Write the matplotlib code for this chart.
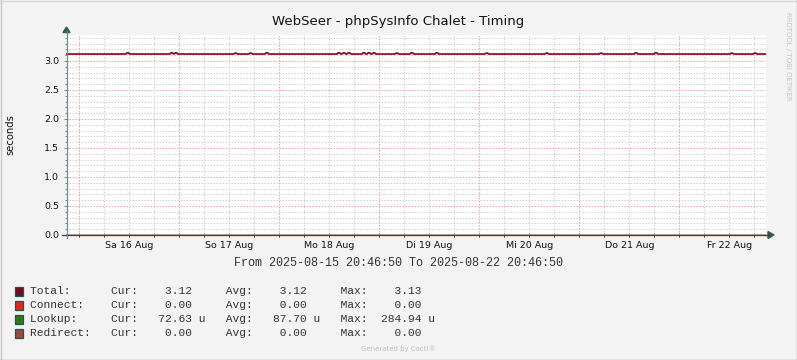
import matplotlib
matplotlib.use("Agg")
import matplotlib.pyplot as plt
import matplotlib.dates as mdates
from matplotlib.lines import Line2D
from matplotlib.patches import Polygon, Rectangle
from matplotlib.ticker import MultipleLocator, FormatStrFormatter
import pandas as pd

W, H = 797, 360

start = pd.Timestamp("2025-08-15 20:46:50")
end = pd.Timestamp("2025-08-22 20:46:50")

# Total timing in seconds: flat, with small spikes (hours after start)
total_base = 3.12
spike_hours = [14.8, 25.4, 26.4, 40.7, 44.3, 48.2, 65.5, 66.7, 67.9, 71.5, 72.7,
               73.9, 79.4, 83.0, 89.0, 101.0, 115.4, 128.4, 136.8, 141.6, 159.8, 165.4]
spike_vals = [3.14, 3.14, 3.14, 3.135, 3.135, 3.14, 3.14, 3.14, 3.14, 3.14, 3.14,
              3.14, 3.135, 3.14, 3.14, 3.135, 3.135, 3.135, 3.14, 3.14, 3.135, 3.135]

day_labels = ["Sa 16 Aug", "So 17 Aug", "Mo 18 Aug", "Di 19 Aug",
              "Mi 20 Aug", "Do 21 Aug", "Fr 22 Aug"]

series_names = ["Total:", "Connect:", "Lookup:", "Redirect:"]
series_colors = ["#7A0A1E", "#E5261B", "#2F7A14", "#984A3B"]
cur_vals = [3.12, 0.00, 72.63, 0.00]
avg_vals = [3.12, 0.00, 87.70, 0.00]
max_vals = [3.13, 0.00, 284.94, 0.00]
units = ["", "", "u", ""]
# level of each series in seconds (others are tiny / zero)
level_vals = [None, 0.0, 87.70e-6, 0.0]


def px(x, y):
    return x / W, 1 - y / H


def hrs(h):
    return (start + pd.Timedelta(hours=h)).to_pydatetime()


fig = plt.figure(figsize=(W / 100, H / 100), dpi=100, facecolor="#F3F3F3")
ax = fig.add_axes([66 / W, 1 - 235 / H, 700 / W, 200 / H], facecolor="white")

# build the total line
xs = [hrs(0)]
ys = [total_base]
for h, v in zip(spike_hours, spike_vals):
    xs += [hrs(h - 0.45), hrs(h - 0.2), hrs(h + 0.2), hrs(h + 0.45)]
    ys += [total_base, v, v, total_base]
xs.append(hrs(168))
ys.append(total_base)

for i in range(1, 4):
    ax.plot([hrs(0), hrs(168)], [level_vals[i]] * 2, color=series_colors[i], lw=1, zorder=2)
ax.plot(xs, ys, color="#8C0A20", lw=1.25, zorder=3)

ax.set_xlim(start.to_pydatetime(), end.to_pydatetime())
ax.set_ylim(0, 3.448)

dot = (0, (1.5, 1.5))
gray = "#D2D2D2"
pink = "#EDA5A5"
ax.set_axisbelow(True)
ax.yaxis.set_major_locator(MultipleLocator(0.5))
ax.yaxis.set_minor_locator(MultipleLocator(0.1))
ax.yaxis.set_major_formatter(FormatStrFormatter("%.1f"))
ax.yaxis.remove_overlapping_locs = True
ax.grid(which="minor", axis="y", color=gray, lw=0.72, ls=dot)
ax.grid(which="major", axis="y", color=pink, lw=0.72, ls=dot)

noons = [d.to_pydatetime() for d in pd.date_range("2025-08-16 12:00", periods=7, freq="D")]
midnights = [d.to_pydatetime() for d in pd.date_range("2025-08-16 00:00", periods=7, freq="D")]
ax.set_xticks(noons, day_labels)
ax.xaxis.set_minor_locator(mdates.HourLocator(byhour=[0, 6, 12, 18]))
ax.xaxis.remove_overlapping_locs = False
for m in pd.date_range("2025-08-15 06:00", periods=32, freq="6h"):
    if m.hour != 0 and start <= m <= end:
        ax.axvline(m.to_pydatetime(), color=gray, lw=0.72, ls=dot, zorder=0.6)
for m in midnights:
    ax.axvline(m, color=pink, lw=0.72, ls=dot, zorder=0.7)

for s in ax.spines.values():
    s.set_visible(False)

ax.tick_params(axis="x", which="major", length=0, pad=4, labelsize=6.8, labelcolor="#111111")
ax.tick_params(axis="x", which="minor", length=2.2, direction="inout", color="#4A3A30", width=0.72)
ax.tick_params(axis="y", which="major", length=2.5, direction="inout", pad=3.5,
               labelsize=6.8, labelcolor="#111111", color="#6A8A84", width=0.72)
ax.tick_params(axis="y", which="minor", length=1.5, direction="inout", color="#6A8A84", width=0.72)

# axis lines with arrows
fig.add_artist(Line2D(*zip(px(62, 235), px(769, 235)), color="#4A3A30", lw=0.9))
fig.add_artist(Line2D(*zip(px(66.5, 238), px(66.5, 31)), color="#6A8A84", lw=0.9))
fig.add_artist(Polygon([px(774, 235), px(768, 231.5), px(768, 238.5)], closed=True,
                       color="#2E5E4E", transform=fig.transFigure))
fig.add_artist(Polygon([px(66.5, 27), px(63, 32.5), px(70, 32.5)], closed=True,
                       color="#2E5E4E", transform=fig.transFigure))

# texts
fig.text(*px(398.5, 22), "WebSeer - phpSysInfo Chalet - Timing", ha="center", va="center",
         fontsize=9.5, color="#111111")
fig.text(*px(10, 135), "seconds", rotation=90, ha="center", va="center",
         fontsize=7.2, color="#111111")
fig.text(*px(788, 56), "RRDTOOL / TOBI OETIKER", rotation=270, ha="center", va="center",
         fontsize=5, color="#C4C4C4")
fig.text(*px(398, 263), "From " + start.strftime("%Y-%m-%d %H:%M:%S") + " To "
         + end.strftime("%Y-%m-%d %H:%M:%S"), ha="center", va="center",
         family="Liberation Mono", fontsize=8.45, color="#333333")
fig.text(*px(398, 349), "Generated by Cacti\u00ae", ha="center", va="center",
         fontsize=5, color="#C0C0C0")

# legend
for i, name in enumerate(series_names):
    yc = 291 + 14 * i
    fig.add_artist(Rectangle(px(15, yc + 4.5), 8 / W, 9 / H, transform=fig.transFigure,
                             facecolor=series_colors[i], edgecolor="#2F4F4F", lw=0.9))
    u = units[i] if units[i] else " "
    row = "%-12sCur:%8.2f %s   Avg:%8.2f %s   Max:%8.2f %s" % (
        name, cur_vals[i], u, avg_vals[i], u, max_vals[i], u)
    fig.text(*px(30, yc), row, ha="left", va="center", family="Liberation Mono",
             fontsize=8.1, color="#333333")

# frame
fig.add_artist(Line2D([0.5 / W, 0.5 / W], [0, 1], color="#C8C8C8", lw=1))
fig.add_artist(Line2D([0, 1], [1 - 0.5 / H, 1 - 0.5 / H], color="#D8D8D8", lw=1))
fig.add_artist(Line2D([1 - 0.5 / W, 1 - 0.5 / W], [0, 1], color="#9A9A9A", lw=1))
fig.add_artist(Line2D([0, 1], [0.5 / H, 0.5 / H], color="#9A9A9A", lw=1))

fig.savefig("out.png", dpi=100, facecolor=fig.get_facecolor())
